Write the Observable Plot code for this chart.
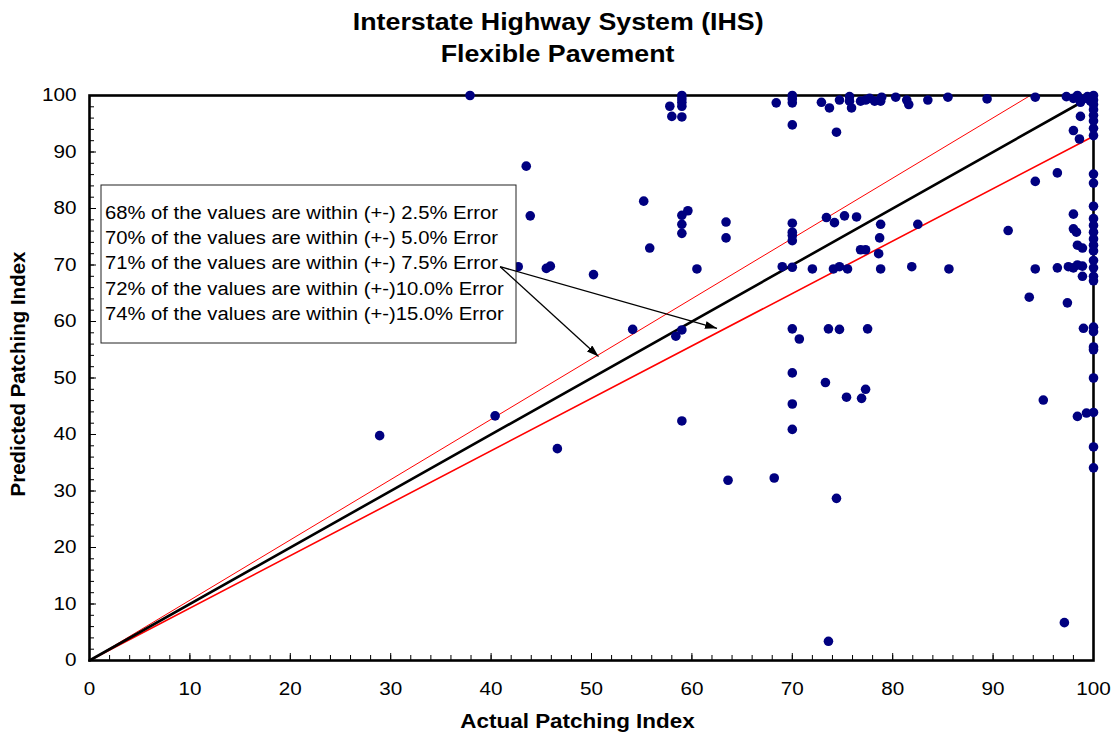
<!DOCTYPE html>
<html><head><meta charset="utf-8">
<script src="https://cdn.jsdelivr.net/npm/d3@7"></script>
<script src="https://cdn.jsdelivr.net/npm/@observablehq/plot@0.6"></script>
<style>
body{margin:0;background:#fff;font-family:"Liberation Sans",Arial,sans-serif;}
#title{height:70px;width:1116px;position:relative;}
#title div{position:absolute;left:0;width:1116px;text-align:center;font-weight:bold;font-size:23.5px;line-height:28px;color:#000;}
#title span{display:inline-block;transform:scaleX(1.14);}
</style></head><body>
<div id="title"><div style="top:8px"><span>Interstate Highway System (IHS)</span></div><div style="top:40px"><span>Flexible Pavement</span></div></div>
<div id="chart"></div>
<script>
// Actual Patching Index (x) and Predicted Patching Index (y)
const actualX = [
 37.9,43.5,55.2,43.9,55.8,42.7,45.5,45.9,50.2,28.9,40.4,46.6,54.1,58.4,59.0,59.0,63.6,68.2,
 59.0,59.0,59.0,59.0,59.0,57.8,58.0,59.0,59.0,59.0,59.6,63.4,63.4,60.5,
 68.4,70.0,70.0,70.0,70.0,72.9,73.7,74.4,74.7,75.7,75.7,75.9,76.8,77.3,77.7,78.2,78.8,78.9,80.3,81.4,81.6,83.5,85.5,89.4,94.2,97.3,
 70.0,70.0,70.0,70.0,69.0,70.0,72.0,73.4,74.2,75.2,76.4,74.1,74.7,75.5,78.8,78.7,76.8,77.3,78.6,78.8,81.9,82.5,85.6,
 70.0,70.7,73.6,74.7,77.5,70.0,73.3,77.3,76.9,75.4,70.0,70.0,74.4,73.6,97.1,
 96.4,94.2,91.5,94.2,96.4,97.5,98.0,98.4,98.9,98.9,98.0,98.0,98.3,98.4,98.9,93.6,97.4,99.0,95.0,98.4,99.3,
 98.7,98.0,98.6,98.0,98.4,98.9,99.4,99.7,98.7,
 100,100,100,100,100,100,100,100,100,100,100,100,100,100,100,100,100,100,100,100,100,100,100,100,100,100,100,100,100
];
const predictedY = [
 100,87.5,81.3,78.7,73.0,69.7,69.4,69.8,68.3,39.8,43.3,37.5,58.6,57.4,58.5,42.4,31.9,32.3,
 100,99.4,98.8,98.1,96.2,98.1,96.3,78.8,77.2,75.6,79.6,77.6,74.8,69.3,
 98.7,100,99.4,98.7,94.8,98.8,97.8,93.5,99.2,99.8,99.0,97.8,99.0,99.2,99.5,99.0,99.0,99.7,99.7,99.2,98.4,99.2,99.7,99.4,99.7,99.8,
 77.4,75.8,75.2,74.3,69.7,69.6,69.3,78.4,77.5,78.7,78.5,69.3,69.7,69.3,77.2,74.8,72.7,72.7,72.0,69.3,69.7,77.2,69.3,
 58.7,56.9,58.7,58.6,58.7,50.9,49.2,48.0,46.4,46.6,45.4,40.9,28.7,3.4,6.7,
 86.3,84.8,76.1,69.3,69.5,69.7,69.5,70.0,69.8,68.0,79.0,76.4,75.8,73.5,73.0,64.3,63.3,58.8,46.1,43.2,43.8,
 96.3,93.8,92.3,99.5,100,99.3,99.8,99.0,98.8,
 100,99.2,98.4,97.5,96.5,95.5,94.2,92.9,86.1,84.5,80.4,78.2,77.0,75.8,74.6,73.5,72.5,70.8,69.5,68.0,67.2,59.0,58.2,55.5,55.0,50.0,43.9,37.8,34.1
];
const xTicks = [0,10,20,30,40,50,60,70,80,90,100];
const yTicks = [0,10,20,30,40,50,60,70,80,90,100];
const minorTicks = d3.range(0, 101, 2);
// reference lines: line of equality and error band lines
const equalityLine = [[0,0],[100,100]];
const upperErrorLine = [[0,0],[93.7,100]];
const lowerErrorLine = [[0,0],[100,92.8]];
const legendLines = [
 "68% of the values are within (+-) 2.5% Error",
 "70% of the values are within (+-) 5.0% Error",
 "71% of the values are within (+-) 7.5% Error",
 "72% of the values are within (+-)10.0% Error",
 "74% of the values are within (+-)15.0% Error"
];
const arrowFrom = [40.9, 69.7];
const arrowTo = [[50.7, 53.8],[62.5, 58.8]];

const points = actualX.map((x,i)=>({x, y: predictedY[i]}));
const W = 1116, H = 668, mL = 89, mR = 23, mT = 25, mB = 78;
const innerW = W - mL - mR, innerH = H - mT - mB;

function legendBox(index, scales, values, dims) {
  const g = d3.create("svg:g").attr("class", "legendbox");
  const x0 = dims.marginLeft + 12, y0 = dims.marginTop + 90;
  g.append("rect").attr("x", x0).attr("y", y0).attr("width", 415).attr("height", 158)
    .attr("fill", "white").attr("stroke", "#222").attr("stroke-width", 1);
  legendLines.forEach((t, i) => {
    g.append("text").attr("x", x0 + 4).attr("y", y0 + 34 + i * 25.2)
      .attr("text-anchor", "start").attr("font-size", 17.6).attr("fill", "black").text(t);
  });
  return g.node();
}

const chart = Plot.plot({
  width: W, height: H,
  marginLeft: mL, marginRight: mR, marginTop: mT, marginBottom: mB,
  style: {fontFamily: '"Liberation Sans", Arial, sans-serif', fontSize: "18px", color: "black", background: "white"},
  x: {domain: [0, 100]},
  y: {domain: [0, 100]},
  marks: [
    Plot.tickX(minorTicks, {x: d => d, insetTop: innerH - 5, stroke: "black", strokeWidth: 1}),
    Plot.tickX(xTicks, {x: d => d, insetTop: innerH - 7, stroke: "black", strokeWidth: 1}),
    Plot.tickY(minorTicks, {y: d => d, insetRight: innerW - 5, stroke: "black", strokeWidth: 1}),
    Plot.tickY(yTicks, {y: d => d, insetRight: innerW - 7, stroke: "black", strokeWidth: 1}),
    Plot.axisX({ticks: xTicks, tickSize: 0, tickPadding: 22, label: null, fontSize: 18}),
    Plot.axisY({ticks: yTicks, tickSize: 0, tickPadding: 13, label: null, fontSize: 18}),
    Plot.line(lowerErrorLine, {x: d => d[0], y: d => d[1], stroke: "#ff0000", strokeWidth: 1.6}),
    Plot.line(upperErrorLine, {x: d => d[0], y: d => d[1], stroke: "#ff0000", strokeWidth: 1}),
    Plot.line(equalityLine, {x: d => d[0], y: d => d[1], stroke: "black", strokeWidth: 2.6}),
    Plot.frame({stroke: "black", strokeWidth: 2.6}),
    Plot.dot(points, {x: "x", y: "y", r: 4.8, fill: "#000080", stroke: "none"}),
    legendBox,
    Plot.link(arrowTo, {x1: arrowFrom[0], y1: arrowFrom[1], x2: d => d[0], y2: d => d[1], stroke: "black", strokeWidth: 1.3, className: "arrowlink"}),
    Plot.text(["Actual Patching Index"], {frameAnchor: "bottom", dx: -14, dy: 67, fontWeight: "bold", fontSize: 19.5, className: "xlabel"}),
    Plot.text(["Predicted Patching Index"], {frameAnchor: "left", textAnchor: "middle", dx: -71, dy: -4, rotate: -90, fontWeight: "bold", fontSize: 20.5, className: "ylabel"})
  ]
});
document.getElementById("chart").appendChild(chart);

// filled arrowheads
const svg = d3.select(chart);
const defs = svg.insert("defs", ":first-child");
defs.append("marker").attr("id", "ahead").attr("viewBox", "0 0 12 8")
  .attr("refX", 12).attr("refY", 4).attr("markerWidth", 12).attr("markerHeight", 8)
  .attr("markerUnits", "userSpaceOnUse").attr("orient", "auto")
  .append("path").attr("d", "M0,0L12,4L0,8Z").attr("fill", "black");
svg.selectAll(".arrowlink path").attr("marker-end", "url(#ahead)");

// Reference glyphs are horizontally wider: stretch horizontal texts
svg.selectAll("text").each(function() {
  if (this.closest(".ylabel")) return;
  const L = this.getComputedTextLength();
  if (L > 0) {
    this.setAttribute("textLength", (L * 1.15).toFixed(1));
    this.setAttribute("lengthAdjust", "spacingAndGlyphs");
  }
});
</script>
</body></html>
